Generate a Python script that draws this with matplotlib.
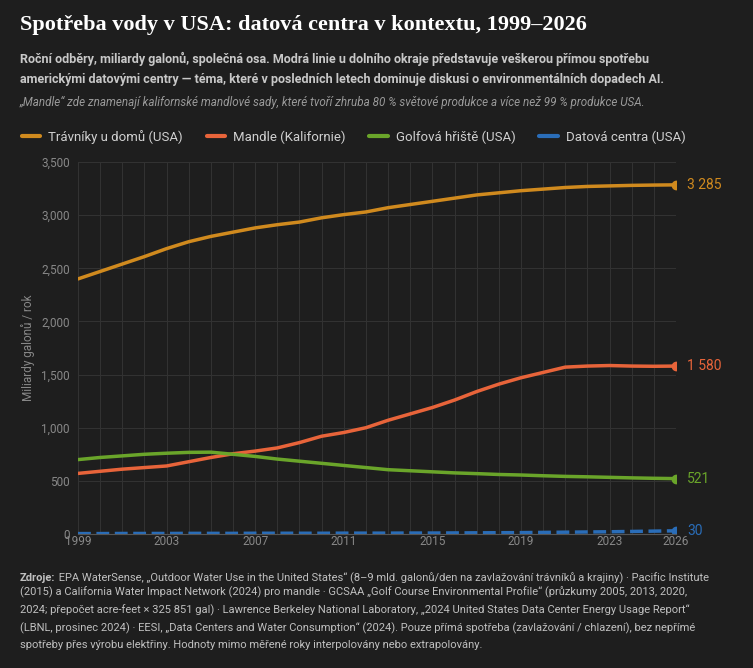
import matplotlib
matplotlib.use("Agg")
import matplotlib.pyplot as plt

years = list(range(1999, 2027))
lawns = [2400, 2470, 2540, 2610, 2685, 2750, 2800, 2840, 2880, 2910, 2935, 2975, 3005, 3030,
         3070, 3100, 3130, 3160, 3190, 3210, 3230, 3245, 3260, 3270, 3275, 3280, 3283, 3285]
almonds = [570, 590, 610, 625, 640, 680, 720, 755, 780, 810, 860, 920, 955, 1000,
           1070, 1130, 1190, 1260, 1340, 1410, 1470, 1520, 1570, 1580, 1585, 1580, 1578, 1580]
golf = [700, 720, 735, 750, 760, 768, 770, 750, 730, 705, 685, 665, 645, 625,
        605, 595, 585, 575, 568, 560, 555, 548, 542, 538, 533, 528, 524, 521]
datacenters = [4, 4, 5, 5, 5, 6, 6, 6, 7, 7, 7, 7, 8, 8,
               8, 9, 9, 10, 11, 12, 13, 15, 17, 19, 21, 24, 27, 30]

series = [
    ("Trávníky u domů (USA)", lawns, "#d08a1e", "-", "3 285"),
    ("Mandle (Kalifornie)", almonds, "#e8643a", "-", "1 580"),
    ("Golfová hřiště (USA)", golf, "#6aa52a", "-", "521"),
    ("Datová centra (USA)", datacenters, "#2a6db8", "--", "30"),
]

BG = "#1e1e1e"
plt.rcParams["font.family"] = ["Roboto", "DejaVu Sans"]
fig = plt.figure(figsize=(7.53, 6.68), dpi=100, facecolor=BG)
ax = fig.add_axes([78 / 753, 1 - 534 / 668, (676 - 78) / 753, (534 - 162) / 668])
ax.set_facecolor(BG)

for name, vals, col, ls, lab in series:
    ax.plot(years, vals, color=col, lw=2.5, ls=ls, label=name, solid_capstyle="round")
    ax.plot(years[-1], vals[-1], "o", color=col, ms=6)
    ax.annotate(lab, (years[-1], vals[-1]), xytext=(8, 0), textcoords="offset points",
                color=col, fontsize=10, va="center")

ax.set_xlim(1999, 2026)
ax.set_ylim(0, 3500)
ax.set_xticks([1999, 2003, 2007, 2011, 2015, 2019, 2023, 2026])
ax.set_xticks(range(1999, 2027), minor=True)
ax.set_yticks(range(0, 3501, 500))
ax.set_yticklabels([f"{v:,}" for v in range(0, 3501, 500)])
ax.grid(True, which="both", color="#333333", lw=0.7)
ax.tick_params(colors="#888888", labelsize=8.5, length=0, which="both")
ax.tick_params(axis="y", pad=6)
ax.tick_params(axis="x", pad=1)
for s in ax.spines.values():
    s.set_visible(False)
ax.spines["bottom"].set_visible(True)
ax.spines["bottom"].set_color("#555555")
ax.set_ylabel("Miliardy galonů / rok", color="#888888", fontsize=8.5)

fig.text(20 / 753, 1 - 25 / 668, "Spotřeba vody v USA: datová centra v kontextu, 1999–2026",
         family=["Liberation Serif", "DejaVu Serif"], fontsize=16, fontweight="bold",
         color="white", va="center")
fig.text(20 / 753, 1 - 69 / 668,
         "Roční odběry, miliardy galonů, společná osa. Modrá linie u dolního okraje představuje veškerou přímou spotřebu\n"
         "americkými datovými centry — téma, které v posledních letech dominuje diskusi o environmentálních dopadech AI.",
         fontsize=9, color="#c8c8c8", va="center", linespacing=1.7, fontweight="bold")
fig.text(20 / 753, 1 - 102 / 668,
         "„Mandle“ zde znamenají kalifornské mandlové sady, které tvoří zhruba 80 % světové produkce a více než 99 % produkce USA.",
         fontsize=8.4, color="#9a9a9a", style="italic", va="center")

handles, labels = ax.get_legend_handles_labels()
leg = fig.legend(handles, labels, loc="center left", bbox_to_anchor=(10 / 753, 1 - 137 / 668),
                 ncol=4, frameon=False, fontsize=9.5, labelcolor="#d0d0d0",
                 handlelength=1.4, columnspacing=1.8, handletextpad=0.6)
for h in leg.get_lines():
    h.set_linestyle("-")
    h.set_linewidth(3)

src_kw = dict(fontsize=8, color="#c0c0c0")
z = fig.text(20 / 753, 1 - 578 / 668, "Zdroje:", fontweight="bold", va="center", **src_kw)
fig.canvas.draw()
ax.annotate(" EPA WaterSense, „Outdoor Water Use in the United States“ (8–9 mld. galonů/den na zavlažování trávníků a krajiny) · Pacific Institute",
            xy=(1, 0.5), xycoords=z, va="center", ha="left", annotation_clip=False, **src_kw)
fig.text(20 / 753, 1 - 578 / 668 - 8 / 668,
         "(2015) a California Water Impact Network (2024) pro mandle · GCSAA „Golf Course Environmental Profile“ (průzkumy 2005, 2013, 2020,\n"
         "2024; přepočet acre-feet × 325 851 gal) · Lawrence Berkeley National Laboratory, „2024 United States Data Center Energy Usage Report“\n"
         "(LBNL, prosinec 2024) · EESI, „Data Centers and Water Consumption“ (2024). Pouze přímá spotřeba (zavlažování / chlazení), bez nepřímé\n"
         "spotřeby přes výrobu elektřiny. Hodnoty mimo měřené roky interpolovány nebo extrapolovány.",
         va="top", linespacing=1.75, **src_kw)

fig.savefig("out.png", dpi=100, facecolor=BG)
